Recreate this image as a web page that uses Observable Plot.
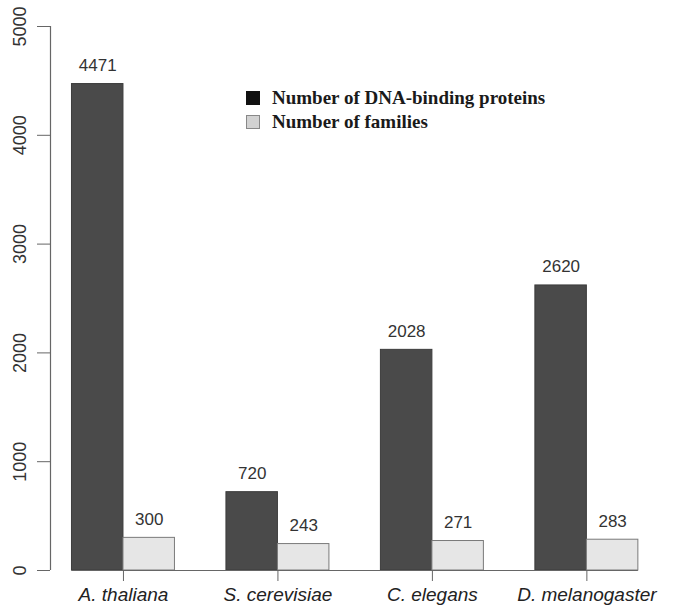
<!DOCTYPE html>
<html><head><meta charset="utf-8">
<script src="https://cdn.jsdelivr.net/npm/d3@7"></script>
<script src="https://cdn.jsdelivr.net/npm/@observablehq/plot@0.6"></script>
<style>
body{margin:0;background:#fff;}
#chart{position:relative;width:683px;height:610px;}
.legend{position:absolute;left:246px;top:86px;font-family:"Liberation Serif","Times New Roman",serif;font-weight:bold;font-size:19px;color:#1a1a1a;}
.row{display:flex;align-items:center;height:24px;}
.sw{width:14px;height:14px;margin-right:12px;box-sizing:border-box;}
</style></head><body><div id="chart"></div>
<script>
const species = ["A. thaliana", "S. cerevisiae", "C. elegans", "D. melanogaster"];
const proteins = [4471, 720, 2028, 2620];
const families = [300, 243, 271, 283];
const seriesNames = ["Number of DNA-binding proteins", "Number of families"];
const yTicks = [0, 1000, 2000, 3000, 4000, 5000];

const barFill = ["#4a4a4a", "#e6e6e6"];
const barStroke = ["#3c3c3c", "#7a7a7a"];
const legendFill = ["#111111", "#d2d2d2"];
const legendStroke = ["#111111", "#888888"];

// R-style beside layout: each group = 2 unit-wide bars, 1 unit gap between groups
const rows = species.flatMap((s, i) => [
  {species: s, series: seriesNames[0], value: proteins[i], slot: i * 3 + 1},
  {species: s, series: seriesNames[1], value: families[i], slot: i * 3 + 2}
]);
const centers = species.map((s, i) => i * 3 + 2);
const xStart = d3.min(rows, d => d.slot);
const xEnd = d3.max(rows, d => d.slot) + 1;

const chart = Plot.plot({
  width: 683,
  height: 610,
  marginLeft: 50,
  marginRight: 23,
  marginTop: 26,
  marginBottom: 40,
  x: {domain: [0.583, 12.43]},
  y: {domain: [0, 5000]},
  style: {fontFamily: "'Liberation Sans', Arial, sans-serif", background: "white", color: "#333"},
  marks: [
    ...seriesNames.map((name, j) => Plot.rectY(rows.filter(r => r.series === name), {
      x1: "slot", x2: d => d.slot + 1, y1: 0, y2: "value",
      fill: barFill[j], stroke: barStroke[j], strokeWidth: 1
    })),
    Plot.ruleY([0], {x1: xStart, x2: xEnd, stroke: "#666", strokeWidth: 1.2}),
    Plot.ruleX([0.583], {y1: 0, y2: 5000, stroke: "#666", strokeWidth: 1.2}),
    Plot.axisY({ticks: yTicks, tickSize: 13, tickRotate: -90, tickPadding: 12, label: null,
      tickFormat: d => String(d), fontSize: 18, stroke: "#666", fill: "#333"}),
    Plot.axisX({ticks: centers, tickSize: 11, tickPadding: 6, label: null,
      tickFormat: d => species[centers.indexOf(d)], fontSize: 19, fontStyle: "italic",
      stroke: "#666", fill: "#222"}),
    Plot.text(rows, {x: d => d.slot + 0.5, y: "value", text: d => String(d.value),
      dy: -13, lineAnchor: "bottom", fontSize: 17, fill: "#333"})
  ]
});
const host = document.getElementById("chart");
host.appendChild(chart);

const legend = document.createElement("div");
legend.className = "legend";
seriesNames.forEach((name, j) => {
  const row = document.createElement("div");
  row.className = "row";
  const sw = document.createElement("span");
  sw.className = "sw";
  sw.style.background = legendFill[j];
  sw.style.border = "1px solid " + legendStroke[j];
  const t = document.createElement("span");
  t.textContent = name;
  row.appendChild(sw);
  row.appendChild(t);
  legend.appendChild(row);
});
host.appendChild(legend);
</script>
</body></html>
